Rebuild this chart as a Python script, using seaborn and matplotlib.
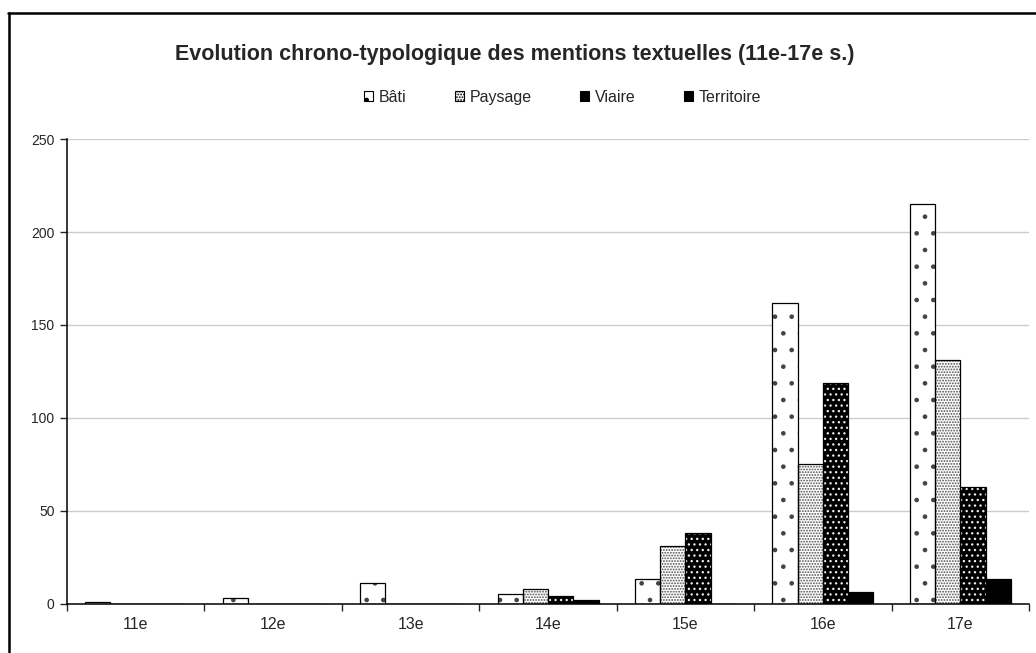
import numpy as np
import pandas as pd
import matplotlib
matplotlib.use("Agg")
import matplotlib.pyplot as plt
import seaborn as sns
from matplotlib.patches import Rectangle, Patch
from matplotlib.lines import Line2D

# données
siecles = ["11e", "12e", "13e", "14e", "15e", "16e", "17e"]
bati = [1, 3, 11, 5, 13, 162, 215]
paysage = [0, 0, 0, 8, 31, 75, 131]
viaire = [0, 0, 0, 4, 38, 119, 63]
territoire = [0, 0, 0, 2, 0, 6, 13]
types = ["Bâti", "Paysage", "Viaire", "Territoire"]

df = pd.DataFrame({"siecle": siecles, "Bâti": bati, "Paysage": paysage,
                   "Viaire": viaire, "Territoire": territoire})
df = df.melt(id_vars="siecle", var_name="type", value_name="n")

sns.set_style("white")
plt.rcParams["font.family"] = ["Liberation Sans", "DejaVu Sans"]
plt.rcParams["hatch.linewidth"] = 0.9

fig = plt.figure(figsize=(10.36, 6.53), dpi=100)
ax = fig.add_axes([0.0647, 0.0758, 0.9286, 0.711])

# style de chaque série : (fond, hachure, couleur hachure)
styles = {
    "Bâti": ("white", ".", "#444444"),
    "Paysage": ("white", "......", "#505050"),
    "Viaire": ("black", "...", "#f0f0f0"),
    "Territoire": ("black", "", "black"),
}

sns.barplot(data=df, x="siecle", y="n", hue="type", hue_order=types,
            palette=[styles[t][0] for t in types], width=0.735,
            ax=ax, legend=False, saturation=1)

for cont, t in zip(ax.containers, types):
    fc, h, hc = styles[t]
    for bar in cont:
        bar.set_hatch(h)
        bar.set_edgecolor(hc)
        bar.set_linewidth(0)
        # contour noir
        ax.add_patch(Rectangle(bar.get_xy(), bar.get_width(), bar.get_height(),
                               fill=False, edgecolor="black", linewidth=0.9, zorder=3))

ax.set_ylim(0, 250)
ax.set_xlim(-0.5, 6.5)
ax.set_yticks(range(0, 251, 50))
ax.yaxis.grid(True, color="#cccccc", linewidth=1)
ax.set_axisbelow(True)
ax.set_xlabel("")
ax.set_ylabel("")
for s in ["top", "right"]:
    ax.spines[s].set_visible(False)
for s in ["left", "bottom"]:
    ax.spines[s].set_color("black")
    ax.spines[s].set_linewidth(1.1)

ax.tick_params(axis="y", left=True, length=5, width=1, labelsize=10, pad=4)
ax.tick_params(axis="x", bottom=False, length=0, labelsize=11.5, pad=10)
ax.set_xticks(np.arange(-0.5, 7, 1), minor=True)
ax.tick_params(axis="x", which="minor", bottom=True, length=5, width=1)

# légende : petits carrés avec contour noir
handles = []
for t in types:
    fc, h, hc = styles[t]
    handles.append(Patch(facecolor=fc, hatch=h, edgecolor="black", linewidth=0.8))
leg = fig.legend(handles, types, loc="center", bbox_to_anchor=(0.543, 0.851), ncol=4,
                 frameon=False, fontsize=11.5, handlelength=0.6, handleheight=0.6,
                 handletextpad=0.35, columnspacing=3.0)

fig.text(0.497, 0.917, "Evolution chrono-typologique des mentions textuelles (11e-17e s.)",
         ha="center", va="center", fontsize=15.5, fontweight="bold")

# cadre du graphique (coupé à droite et en bas)
fig.add_artist(Line2D([8.5 / 1036, 8.5 / 1036], [0, 1 - 13.3 / 653],
                      transform=fig.transFigure, color="black", linewidth=1.8))
fig.add_artist(Line2D([7.6 / 1036, 1], [1 - 13.3 / 653, 1 - 13.3 / 653],
                      transform=fig.transFigure, color="black", linewidth=1.8))

fig.savefig("out.png", dpi=100)
